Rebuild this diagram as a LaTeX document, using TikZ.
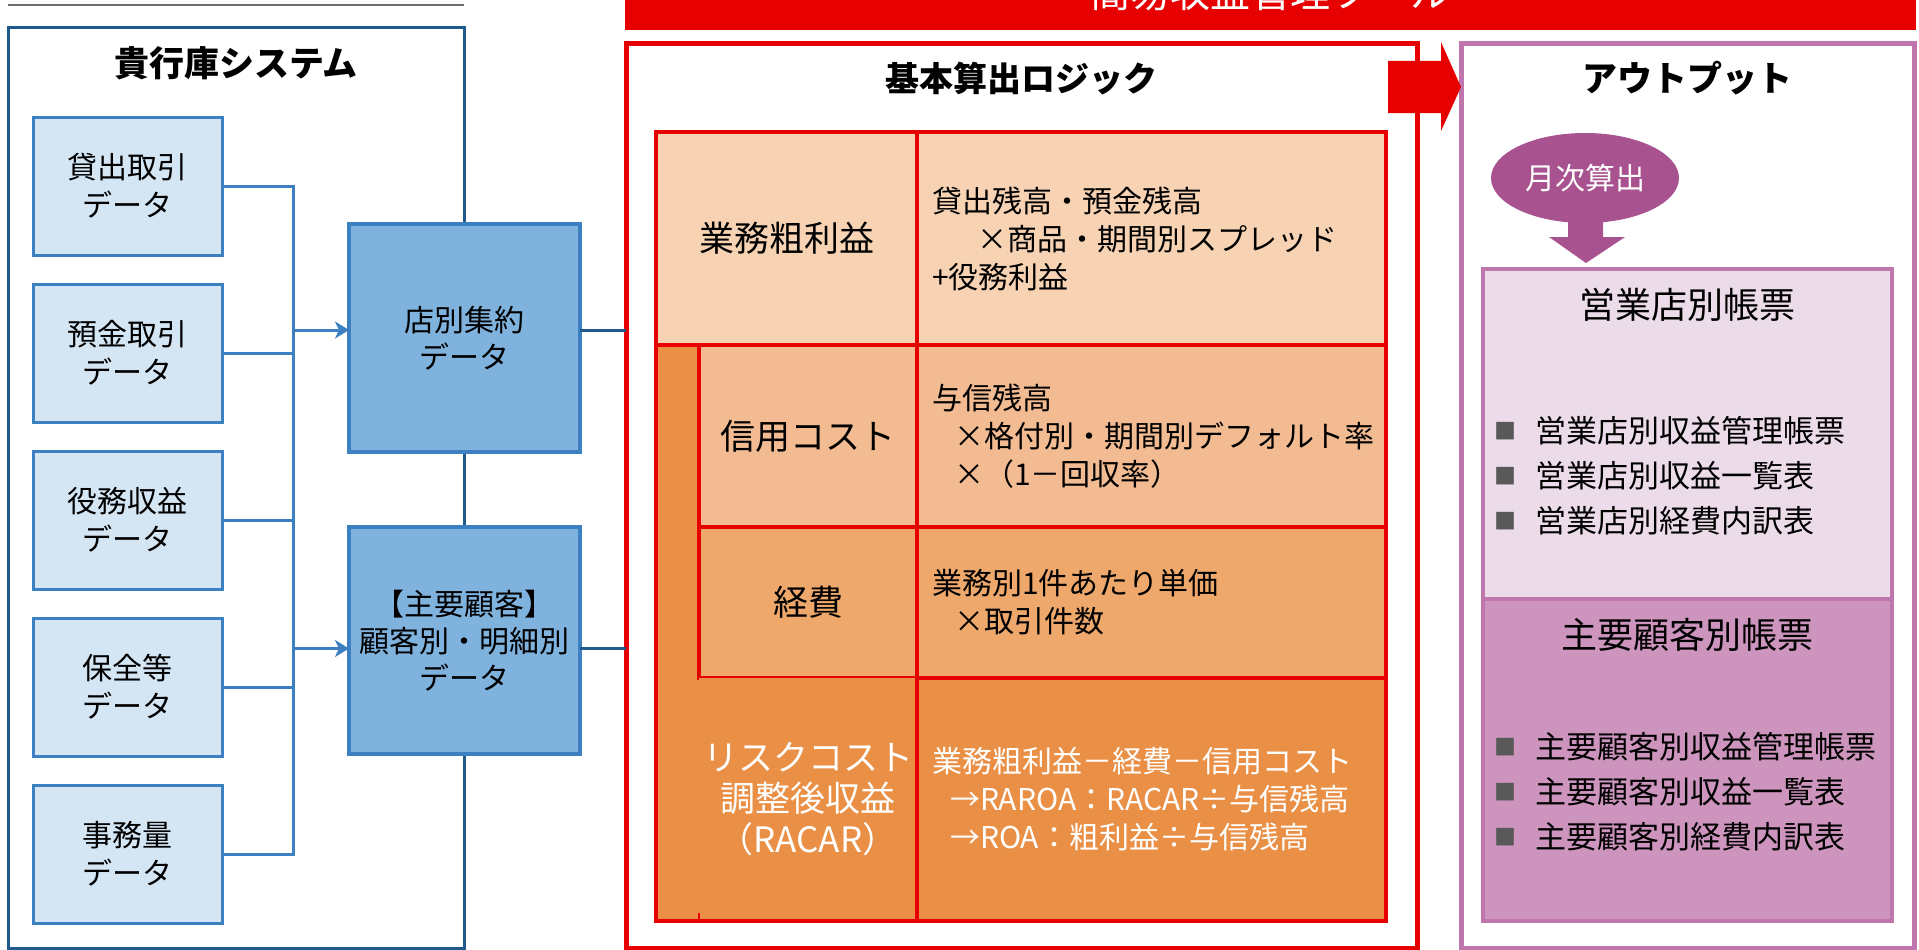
\documentclass[tikz,border=0pt]{standalone}
\usepackage{fontspec}
\setmainfont{Noto Sans CJK JP}
\usepackage{tikz}
\usetikzlibrary{positioning}
\usetikzlibrary{arrows.meta}
\usetikzlibrary{shapes.geometric,calc}

\definecolor{sysblue}{HTML}{1F5A8C}
\definecolor{linkblue}{HTML}{3D80C1}
\definecolor{srcfill}{HTML}{D4E5F4}
\definecolor{aggfill}{HTML}{7FB2DD}
\definecolor{toolred}{HTML}{E60000}
\definecolor{peachA}{HTML}{F7D3B4}
\definecolor{peachB}{HTML}{F2BB92}
\definecolor{peachC}{HTML}{EEA86B}
\definecolor{peachD}{HTML}{EA9046}
\definecolor{outline}{HTML}{BF76AC}
\definecolor{moonfill}{HTML}{A8528F}
\definecolor{branchfill}{HTML}{ECDCEA}
\definecolor{custfill}{HTML}{CD95BE}
\definecolor{bulletgray}{HTML}{595959}
\definecolor{rulegray}{HTML}{6E6E6E}

\begin{document}
\begin{tikzpicture}[x=1pt,y=-1pt,every node/.style={outer sep=0pt,inner sep=0pt},
 frame/.style={draw,line width=5pt},
 head/.style={font=\fontsize{35}{40}\selectfont\bfseries},
 srcbox/.style={draw=linkblue,line width=3pt,fill=srcfill,minimum width=189pt,
  minimum height=138pt,align=center,font=\fontsize{30}{38}\selectfont},
 aggbox/.style={draw=linkblue,line width=3.5pt,fill=aggfill,minimum width=231pt,
  align=center,font=\fontsize{30}{37}\selectfont},
 feed/.style={linkblue,line width=3pt},
 link/.style={sysblue,line width=3pt},
 cell/.style={draw=toolred,line width=4pt},
 rowhead/.style={cell,align=center,font=\fontsize{35}{41}\selectfont},
 formula/.style={cell,minimum width=469pt,inner xsep=15pt,text width=439pt,
  align=left,font=\fontsize{30}{38}\selectfont},
 sheet/.style={draw=outline,line width=4pt,minimum width=409pt},
 sheettitle/.style={font=\fontsize{36}{40}\selectfont},
 item/.style={anchor=west,font=\fontsize{31}{38}\selectfont}]

  \clip (0,0) rectangle (1919,950);
  \fill[white] (0,0) rectangle (1919,950);

  % bank system side
  \node[frame,draw=sysblue,line width=3pt,minimum width=456pt,minimum height=920pt] (sys) at (236,488) {};
  \draw[rulegray,line width=2pt] ([yshift=23pt]sys.north west) -- ([yshift=23pt]sys.north east);
  \node[head] at ([yshift=-35pt]sys.north) {貴行庫システム};

  \foreach \T [count=\i] in {貸出取引,預金取引,役務収益,保全等,事務量}
   \node[srcbox] (s\i) at (127.5,{186+167*(\i-1)}) {\T\\データ};

  \coordinate (bus) at (293,0);
  \draw[feed] (s1.east) -- (s1.east -| bus) -- (s5.east -| bus) -- (s5.east);
  \foreach \i in {2,3,4}
   \draw[feed] (s\i.east) -- (s\i.east -| bus);

  \node[aggbox,minimum height=228pt] (agg) at (464.5,338) {店別集約\\データ};
  \node[aggbox,minimum height=227pt] (cust) at (464.5,640.5) {【主要顧客】\\顧客別・明細別\\データ};
  \coordinate (aggin) at ([yshift=8pt]agg.west);
  \coordinate (custin) at ([yshift=-8pt]cust.west);
  \draw[feed,-{Stealth[length=14pt,width=17pt,inset=4pt]}] (aggin -| bus) -- (aggin);
  \draw[feed,-{Stealth[length=14pt,width=17pt,inset=4pt]}] (custin -| bus) -- (custin);

  % tool banner and logic
  \node[fill=toolred,minimum width=1291pt,minimum height=76pt,text=white,
   font=\fontsize{40}{44}\selectfont] (band) at (1270.5,-8) {簡易収益管理ツール};
  \node[frame,draw=toolred,minimum width=791pt,minimum height=904pt] (logic) at (1021.5,496) {};
  \node[head,font=\fontsize{34}{40}\selectfont\bfseries] at ([yshift=-35pt]logic.north) {基本算出ロジック};

  \coordinate (aggout) at ([yshift=8pt]agg.east);
  \coordinate (custout) at ([yshift=-8pt]cust.east);
  \draw[link] (aggout) -- (aggout -| logic.west);
  \draw[link] (custout) -- (custout -| logic.west);

  \fill[peachD] (656,345) rectangle (699,921);
  \node[rowhead,fill=peachA,minimum width=261pt,minimum height=213pt] (gp) at (786.5,238.5) {業務粗利益};
  \node[formula,fill=peachA,minimum height=213pt,right=0pt of gp] (gpf)
   {貸出残高・預金残高\\\hspace*{45pt}×商品・期間別スプレッド\\+役務利益};
  \node[rowhead,fill=peachB,minimum width=218pt,minimum height=182pt] (cr) at (808,436) {信用コスト};
  \node[formula,fill=peachB,minimum height=182pt,right=0pt of cr] (crf)
   {与信残高\\\hspace*{22pt}×格付別・期間別デフォルト率\\\hspace*{22pt}×（1－回収率）};
  \node[rowhead,fill=peachC,minimum width=218pt,minimum height=151pt,below=0pt of cr] (ex) {経費};
  \node[formula,fill=peachC,minimum height=151pt,right=0pt of ex] (exf)
   {業務別1件あたり単価\\\hspace*{22pt}×取引件数};
  \node[rowhead,draw=none,fill=peachD,text=white,minimum width=218pt,minimum height=243pt,
   below=0pt of ex] (rc) {リスクコスト\\調整後収益\\（RACAR）};
  \node[formula,fill=peachD,text=white,minimum height=243pt,right=0pt of rc] (rcf)
   {業務粗利益－経費－信用コスト\\\hspace*{18pt}→RAROA：RACAR÷与信残高\\\hspace*{18pt}→ROA：粗利益÷与信残高};
  \draw[toolred,line width=4pt] (gp.north west) rectangle (rcf.south east);
  \draw[toolred,line width=2pt] (rc.south west) -- ++(0,-8);

  % output side
  \node[frame,draw=outline,minimum width=453pt,minimum height=904pt] (out) at (1687.5,496) {};
  \fill[toolred] (1388,61) -- (1441,61) -- (1441,42) -- (1461,87) -- (1441,131)
   -- (1441,113) -- (1388,113) -- cycle;
  \node[head] at ([yshift=-34pt]out.north) {アウトプット};

  \node[ellipse,fill=moonfill,minimum width=188pt,minimum height=90pt,text=white,
   font=\fontsize{30}{34}\selectfont] (monthly) at (1585,178) {月次算出};
  \fill[moonfill] (1568,215) -- (1603,215) -- (1603,237) -- (1625,237) -- (1586,263)
   -- (1549,237) -- (1568,237) -- cycle;

  \node[sheet,fill=branchfill,minimum height=330pt] (branch) at (1687.5,434) {};
  \node[sheet,fill=custfill,minimum height=322pt,below=0pt of branch] (custsheet) {};
  \node[sheettitle] at ([yshift=-36pt]branch.north) {営業店別帳票};
  \node[sheettitle] at ([yshift=-36pt]custsheet.north) {主要顧客別帳票};

  \foreach \T [count=\i] in {営業店別収益管理帳票,営業店別収益一覧表,営業店別経費内訳表}
   \node[item] at (1494,{431+45*(\i-1)})
    {\raisebox{3pt}{\fontsize{22}{22}\selectfont\color{bulletgray}■}\hspace{19pt}\T};
  \foreach \T [count=\i] in {主要顧客別収益管理帳票,主要顧客別収益一覧表,主要顧客別経費内訳表}
   \node[item] at (1494,{747+45*(\i-1)})
    {\raisebox{3pt}{\fontsize{22}{22}\selectfont\color{bulletgray}■}\hspace{19pt}\T};

\end{tikzpicture}
\end{document}
